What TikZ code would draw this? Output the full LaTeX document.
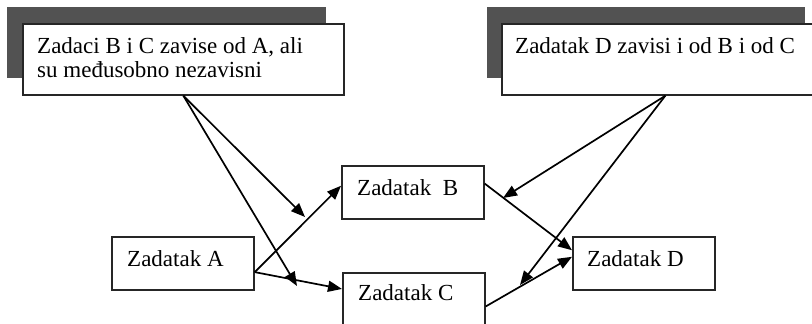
\documentclass[tikz,border=0pt]{standalone}
\usepackage{fontspec}
\setmainfont{Liberation Serif}
\usetikzlibrary{arrows.meta,calc}

\tikzset{
  box/.style={draw=black!85, line width=1.7pt, fill=white, rectangle, inner sep=0pt, anchor=north west},
  shade/.style={fill=black!68, draw=none},
  txt/.style={anchor=base west, inner sep=0pt, font=\fontsize{23}{24}\selectfont},
  link/.style={line width=1.7pt, -{Triangle[length=14pt,width=11pt]}},
}

\begin{document}
\begin{tikzpicture}[x=1pt,y=-1pt]
  \useasboundingbox (0,0) rectangle (812,324);

  % callout shadows
  \fill[shade] (7,7) rectangle (326,78);
  \fill[shade] (487,7) rectangle (805,78);

  % callouts
  \node[box, minimum width=321pt, minimum height=71pt] (n1) at (22,23) {};
  \node[txt] at (37,53) {Zadaci B i C zavise od A, ali};
  \node[txt] at (37,77) {su međusobno nezavisni};

  \node[box, minimum width=318pt, minimum height=71pt] (n2) at (501,23) {};
  \node[txt] at (515,53) {Zadatak D zavisi i od B i od C};

  % tasks
  \node[box, minimum width=142pt, minimum height=53pt] (A) at (111,236) {};
  \node[txt] at (127,266) {Zadatak A};
  \node[box, minimum width=142pt, minimum height=53pt] (B) at (341,165) {};
  \node[txt] at (357,195) {Zadatak\hspace{0.5em}B};
  \node[box, minimum width=142pt, minimum height=53pt] (C) at (342,272) {};
  \node[txt] at (358,300) {Zadatak C};
  \node[box, minimum width=142pt, minimum height=53pt] (D) at (572,236) {};
  \node[txt] at (587,266) {Zadatak D};

  % attachment points on the box sides
  \coordinate (aout) at ($(A.north east)!0.66!(A.south east)$);
  \coordinate (bin)  at ($(B.north west)!0.38!(B.south west)$);
  \coordinate (bout) at ($(B.north east)!0.34!(B.south east)$);
  \coordinate (cin)  at ($(C.north west)!0.31!(C.south west)$);
  \coordinate (cout) at ($(C.north east)!0.63!(C.south east)$);
  \coordinate (din1) at ($(D.north west)!0.26!(D.south west)$);
  \coordinate (din2) at ($(D.north west)!0.38!(D.south west)$);
  \coordinate (s2)   at ($(n2.south)+(4.5,0)$);

  % callout pointers end on the dependency arrows
  \coordinate (p1) at (305,217);
  \coordinate (p2) at (297,286);
  \coordinate (q1) at (503,198);
  \coordinate (q2) at (520,285);

  % dependencies
  \draw[link] (aout) -- (bin);
  \draw[link] (aout) -- (cin);
  \draw[link] (bout) -- (din1);
  \draw[link] (cout) -- (din2);

  % callout pointers
  \draw[link] (n1.south) -- (p1);
  \draw[link] (n1.south) -- (p2);
  \draw[link] (s2) -- (q1);
  \draw[link] (s2) -- (q2);
\end{tikzpicture}
\end{document}
